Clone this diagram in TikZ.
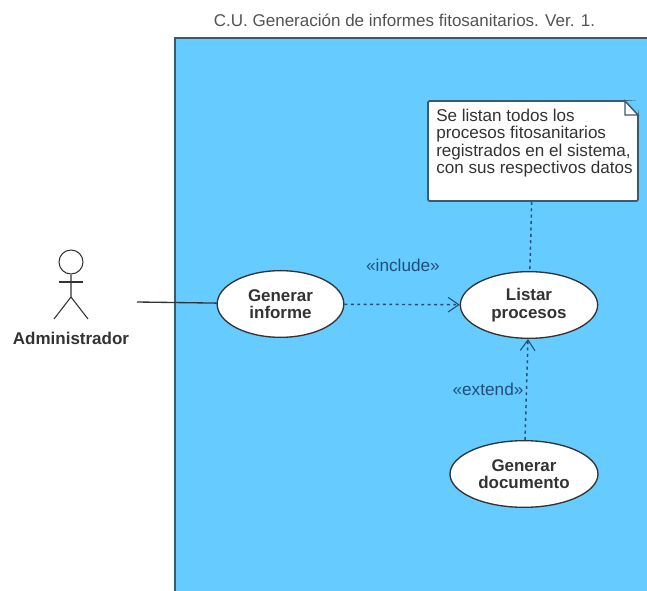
\documentclass[tikz,border=0pt]{standalone}
\usepackage{fontspec}
\setmainfont{Liberation Sans}
\usetikzlibrary{arrows.meta,shapes.geometric}
\definecolor{sistema}{HTML}{66CBFF}
\definecolor{borde}{HTML}{3A5A70}
\definecolor{tinta}{HTML}{333333}
\definecolor{rotulo}{HTML}{1F4F78}
\tikzset{
	casouso/.style={draw=tinta, fill=white, ellipse, line width=1pt, minimum width=103pt, minimum height=50pt, inner sep=0pt, align=center, font=\fontsize{12.7}{13}\selectfont\bfseries, text=tinta},
	punteada/.style={draw=rotulo, line width=1.1pt, dash pattern=on 2.2pt off 2.6pt},
	punta/.style={-{Straight Barb[length=8pt,width=11pt,line width=.8pt]}},
	rotuloestereo/.style={font=\fontsize{12.9}{13}\selectfont, text=rotulo}
}
\begin{document}
\begin{tikzpicture}[x=.75pt, y=-.75pt]
			\useasboundingbox (0,0) rectangle (647,591);
			\fill[sistema] (175,38) rectangle (647,591);
			\draw[borde, line width=1.2pt] (175,591) -- (175,38) -- (647,38);
			\node[font=\fontsize{12.75}{13}\selectfont, text=tinta!85] (titulo) at (404.5,20) {C.U. Generación de informes fitosanitarios. Ver. 1.};
			\node[draw=tinta, circle, line width=.8pt, minimum size=18pt, inner sep=0pt] (cabeza) at (71,262) {};
			\coordinate (cadera) at (71,297);
			\coordinate (pieizq) at (54,319);
			\coordinate (pieder) at (88,319);
			\coordinate (manoizq) at (59,282);
			\coordinate (manoder) at (83,282);
			\draw[tinta, line width=.8pt] (cabeza) -- (cadera) -- (pieizq);
			\draw[tinta, line width=.8pt] (cadera) -- (pieder);
			\draw[tinta, line width=.8pt] (manoizq) -- (manoder);
			\node[font=\fontsize{12.75}{13}\selectfont\bfseries, text=tinta] (admin) at (71,338) {Administrador};
			\coordinate (actorfin) at (137,302);
			\node[casouso, minimum width=95pt] (informe) at (280.5,304) {Generar\\informe};
			\node[casouso] (listar) at (529,305) {Listar\\procesos};
			\node[casouso, minimum width=111pt] (documento) at (524,474) {Generar\\documento};
			\node[draw=borde, fill=white, line width=1.3pt, rounded corners=1pt, minimum width=157.5pt, minimum height=75pt, inner sep=0pt] (nota) at (533,151) {};
			\node[anchor=north west, inner sep=0pt, align=left, font=\fontsize{12.8}{13}\selectfont, text=tinta] (notatexto) at (436,109) {Se listan todos los\\procesos fitosanitarios\\registrados en el sistema,\\con sus respectivos datos};
			\coordinate (pliegue) at (625,101);
			\coordinate (pliegueb) at (638,115);
			\fill[sistema] (pliegue) -- (640,100) -- (pliegueb) -- cycle;
			\draw[borde, line width=1.1pt] (pliegue) -- (pliegueb) -- (625,115) -- cycle;
			\draw[black!80, line width=1pt] (actorfin) -- (informe);
			\draw[punteada, punta] (informe) -- (listar);
			\draw[punteada, punta] (documento) -- (listar);
			\draw[punteada] (nota) -- (listar);
			\node[rotuloestereo] (incluye) at (403,265) {«include»};
			\node[rotuloestereo] (extiende) at (488,389) {«extend»};
		\end{tikzpicture}
\end{document}
